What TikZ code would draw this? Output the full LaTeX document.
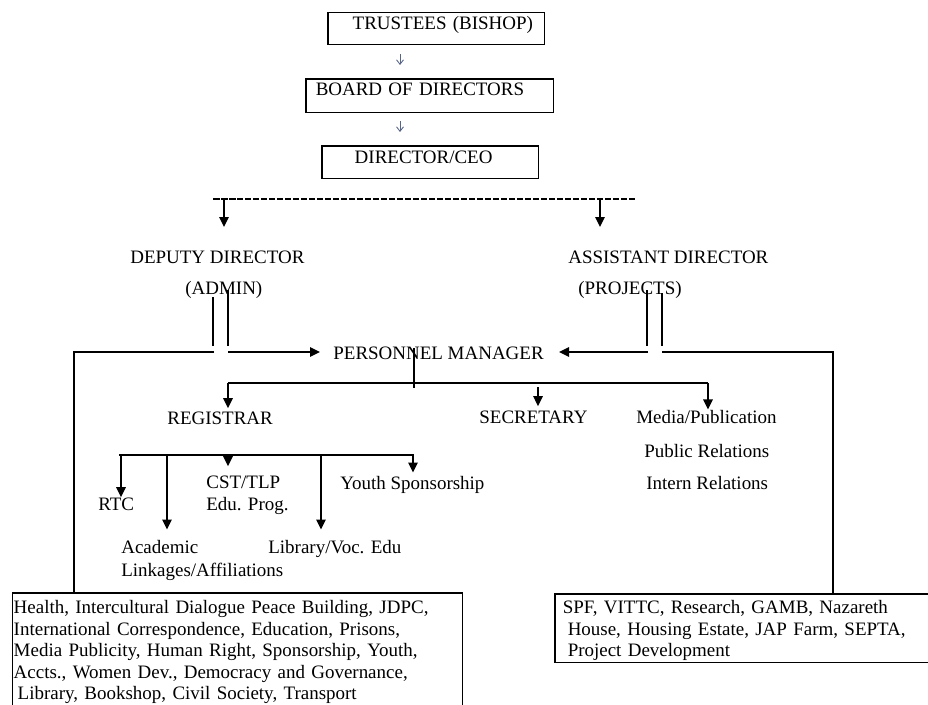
\documentclass[tikz,border=0pt]{standalone}
\usepackage{fontspec}
\setmainfont{Liberation Serif}
\usetikzlibrary{arrows.meta,positioning,calc}
\definecolor{arrowblue}{RGB}{85,100,135}

\begin{document}
\begin{tikzpicture}[x=0.02cm, y=-0.02cm,
                    font=\fontsize{10.8pt}{12.2pt}\selectfont,
                    every org label/.style = {},
                    org label/.style = {inner sep=0pt, anchor=base west, every org label},
                    org box/.style = {rectangle, draw=black, line width=0.85pt, anchor=north west, inner sep=0pt, align=left},
                    link/.style = {draw=black, line width=0.85pt},
                    link arrow/.style = {link, -{Triangle[length=0.2cm, width=0.19cm]}},
                    small arrow/.style = {draw=arrowblue, line width=0.5pt, -{Straight Barb[length=0.09cm, width=0.14cm]}}]
                \useasboundingbox (0,0) rectangle (928,704);
                \clip (0,0) rectangle (928,704);
                % top boxes
                \node at (327,12) [org box, text width=4.34cm, text height=0.34cm, text depth=0.30cm] (trustees) {\hspace*{0.5cm}TRUSTEES (BISHOP)};
                \node at (305,78) [org box, text width=4.96cm, text height=0.34cm, text depth=0.34cm] (board) {\hspace*{0.2cm}BOARD OF DIRECTORS};
                \node at (321,145) [org box, text width=4.34cm, text height=0.36cm, text depth=0.30cm] (director) {\hspace*{0.66cm}DIRECTOR/CEO};
                \coordinate (top axis) at (400,0);
                \draw[small arrow, shorten <=0.18cm, shorten >=0.26cm] (trustees.south -| top axis) -- (board.north -| top axis);
                \draw[small arrow, shorten <=0.16cm, shorten >=0.26cm] (board.south -| top axis) -- (director.north -| top axis);
                % dashed bar
                \coordinate (bar west) at (213,199);
                \coordinate (bar east) at (635,199);
                \coordinate (deputy drop) at (224,227);
                \coordinate (assistant drop) at (600,227);
                \draw[link, dash pattern=on 0.13cm off 0.03cm] (bar west) -- (bar east);
                \draw[link arrow] (deputy drop |- bar west) -- (deputy drop);
                \draw[link arrow] (assistant drop |- bar west) -- (assistant drop);
                % directors
                \node at (130,263) [org label] (deputy) {DEPUTY DIRECTOR};
                \node at (185,294) [org label] (admin) {(ADMIN)};
                \node at (568,263) [org label] (assistant) {ASSISTANT DIRECTOR};
                \node at (578,294) [org label] (projects) {(PROJECTS)};
                \node at (333,359) [org label] (personnel) {PERSONNEL MANAGER};
                % bottom boxes
                \node at (12,592) [org box, text width=8.96cm, inner xsep=0.02cm] (health) {\rule{0pt}{0.42cm}Health, Intercultural Dialogue Peace Building, JDPC,\\
                    International Correspondence, Education, Prisons,\\
                    Media Publicity, Human Right, Sponsorship, Youth,\\
                    Accts., Women Dev., Democracy and Governance,\\
                    \hspace*{0.08cm}Library, Bookshop, Civil Society, Transport\rule[-2cm]{0pt}{0pt}};
                \node at (554,593) [org box, text width=7.2cm, inner xsep=0.16cm] (projects box) {\rule{0pt}{0.4cm}SPF, VITTC, Research, GAMB, Nazareth\\
                    \hspace*{0.1cm}House, Housing Estate, JAP Farm, SEPTA,\\
                    \hspace*{0.1cm}Project Development\rule[-0.12cm]{0pt}{0pt}};
                % admin side
                \coordinate (admin rail a) at (213,297);
                \coordinate (admin rail b) at (228,290);
                \coordinate (admin rail end) at (0,346);
                \coordinate (left rail) at (74,352);
                \coordinate (admin gap a) at (214,352);
                \coordinate (admin gap b) at (228,352);
                \draw[link] (admin rail a) -- (admin rail a |- admin rail end);
                \draw[link] (admin rail b) -- (admin rail b |- admin rail end);
                \draw[link] (admin gap a) -- (left rail) -- (health.north -| left rail);
                \draw[link arrow, shorten >=0.26cm] (admin gap b) -- (personnel.west |- admin gap b);
                % projects side
                \coordinate (proj rail a) at (647,290);
                \coordinate (proj rail b) at (662,293);
                \coordinate (right rail) at (833,352);
                \coordinate (proj gap a) at (648,352);
                \coordinate (proj gap b) at (662,352);
                \draw[link] (proj rail a) -- (proj rail a |- admin rail end);
                \draw[link] (proj rail b) -- (proj rail b |- admin rail end);
                \draw[link] (proj gap b) -- (right rail) -- (projects box.north -| right rail);
                \draw[link arrow, shorten >=0.3cm] (proj gap a) -- (personnel.east |- proj gap a);
                % personnel branches
                \node at (167,424) [org label] (registrar) {REGISTRAR};
                \node at (479,423) [org label] (secretary) {SECRETARY};
                \node at (636,423) [org label] (media) {Media/Publication};
                \node at (644,457) [org label] (public) {Public Relations};
                \node at (646,489) [org label] (intern) {Intern Relations};
                \coordinate (pm stem top) at (414,348);
                \coordinate (pm stem bottom) at (414,388);
                \coordinate (branch west) at (228,383);
                \coordinate (branch east) at (708,383);
                \coordinate (secretary drop) at (538,387);
                \draw[link] (pm stem top) -- (pm stem bottom);
                \draw[link] (branch west) -- (branch east);
                \draw[link arrow, shorten >=0.06cm] (branch west) -- (registrar.north -| branch west);
                \draw[link arrow, shorten >=0.08cm] (secretary drop) -- (secretary.north -| secretary drop);
                \draw[link arrow] (branch east) -- (media.north -| branch east);
                % registrar branches
                \node at (98,510) [org label] (rtc) {RTC};
                \node at (206,488) [org label] (cst) {CST/TLP};
                \node at (206,510) [org label] (cst prog) {Edu. Prog.};
                \node at (340,489) [org label] (youth) {Youth Sponsorship};
                \node at (121,553) [org label] (academic) {Academic};
                \node at (121,576) [org label] (linkages) {Linkages/Affiliations};
                \node at (268,553) [org label] (library) {Library/Voc. Edu};
                \coordinate (sub west) at (119,455);
                \coordinate (sub east) at (414,455);
                \coordinate (rtc drop) at (121,455);
                \coordinate (academic drop) at (167,455);
                \coordinate (cst drop) at (228,455);
                \coordinate (library drop) at (321,455);
                \coordinate (youth drop) at (413,455);
                \draw[link] (sub west) -- (sub east);
                \draw[link arrow] (rtc drop) -- (rtc.north -| rtc drop);
                \draw[link arrow, shorten >=0.2cm] (academic drop) -- (academic.north -| academic drop);
                \draw[link arrow, shorten >=0.18cm] (cst drop) -- (cst.north -| cst drop);
                \draw[link arrow, shorten >=0.2cm] (library drop) -- (library.north -| library drop);
                \draw[link arrow, shorten >=0.06cm] (youth drop) -- (youth.north -| youth drop);
            \end{tikzpicture}
\end{document}
